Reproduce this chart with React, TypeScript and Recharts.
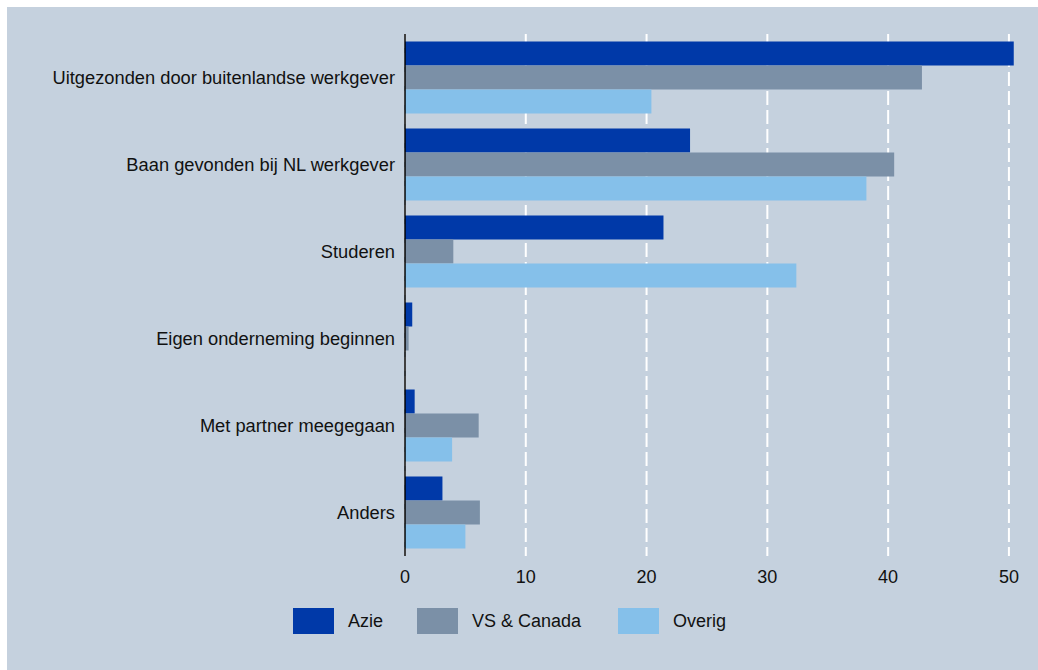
import {
  BarChart,
  Bar,
  XAxis,
  YAxis,
  CartesianGrid,
  Legend
} from 'recharts'

const categories = [
  'Uitgezonden door buitenlandse werkgever',
  'Baan gevonden bij NL werkgever',
  'Studeren',
  'Eigen onderneming beginnen',
  'Met partner meegegaan',
  'Anders'
]

const azie = [50.4, 23.6, 21.4, 0.6, 0.8, 3.1]
const vsCanada = [42.8, 40.5, 4.0, 0.3, 6.1, 6.2]
const overig = [20.4, 38.2, 32.4, 0, 3.9, 5.0]

const xTicks = [0, 10, 20, 30, 40, 50]
const xMax = 51

const series = [
  { key: 'azie', name: 'Azie', color: '#0039a8' },
  { key: 'vs', name: 'VS & Canada', color: '#7b90a7' },
  { key: 'overig', name: 'Overig', color: '#85c0ea' }
]

const data = categories.map((name, i) => ({
  name,
  azie: azie[i],
  vs: vsCanada[i],
  overig: overig[i]
}))

const font = '"Liberation Sans", Arial, sans-serif'
const itemWidths = [124, 201, 150]

const ChartLegend = () => (
  <div style={{ display: 'flex', alignItems: 'center', fontFamily: font, fontSize: 18, color: '#111' }}>
    {series.map((s, i) => (
      <div
        key={s.key}
        style={{ display: 'flex', alignItems: 'center', width: itemWidths[i] }}
      >
        <span style={{ display: 'inline-block', width: 41, height: 26, background: s.color, marginRight: 14 }} />
        <span>{s.name}</span>
      </div>
    ))}
  </div>
)

// grid only at the tick values, not at the domain end
const gridX = ({ offset }: any) =>
  xTicks.map((t) => offset.left + (t / xMax) * offset.width)

const App = () => {
  return (
    <div style={{ position: 'absolute', left: 0, top: 0, width: 1038, height: 670, background: '#fff' }}>
      <div style={{ position: 'absolute', left: 7, top: 7, width: 1031, height: 663, background: '#c5d1de' }}>
        <BarChart
          width={1031}
          height={663}
          data={data}
          layout='vertical'
          margin={{ top: 27, right: 17, left: 0, bottom: 74 }}
          barCategoryGap={7.5}
          barGap={0}
        >
          <CartesianGrid
            horizontal={false}
            stroke='#ffffff'
            strokeWidth={2}
            strokeDasharray='14 5'
            verticalCoordinatesGenerator={gridX}
          />
          <XAxis
            type='number'
            domain={[0, xMax]}
            ticks={xTicks}
            axisLine={false}
            tickLine={false}
            tickSize={0}
            tickMargin={14}
            height={40}
            tick={{ fill: '#111', fontSize: 18, fontFamily: font }}
          />
          <YAxis
            type='category'
            dataKey='name'
            width={398}
            axisLine={{ stroke: '#000', strokeWidth: 1.5 }}
            tickLine={false}
            tickSize={0}
            tickMargin={10}
            interval={0}
            tick={{ fill: '#111', fontSize: 18.3, fontFamily: font }}
          />
          <Legend
            verticalAlign='middle'
            align='center'
            content={<ChartLegend />}
            wrapperStyle={{ position: 'absolute', left: 286, top: 601, width: 500, height: 26 }}
          />
          {series.map((s) => (
            <Bar
              key={s.key}
              dataKey={s.key}
              name={s.name}
              fill={s.color}
              isAnimationActive={false}
            />
          ))}
        </BarChart>
      </div>
    </div>
  )
}

export default App
